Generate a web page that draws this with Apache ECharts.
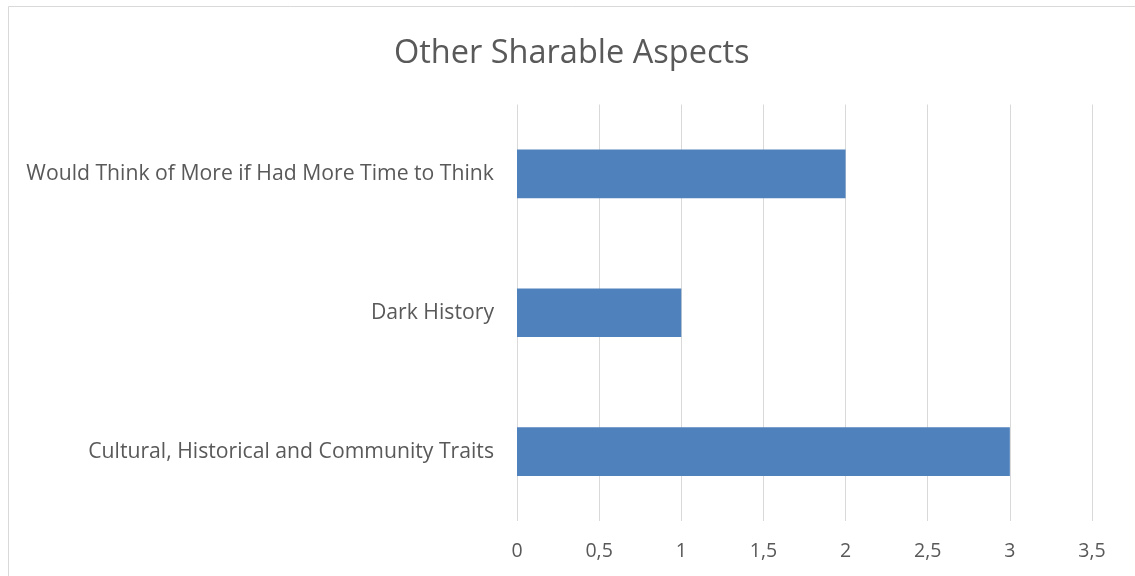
<!DOCTYPE html>
<html><head><meta charset="utf-8">
<script src="https://cdn.jsdelivr.net/npm/echarts@6/dist/echarts.min.js"></script>
<style>html,body{margin:0;padding:0;background:#fff}#c{width:1135px;height:576px}</style>
</head><body><div id="c"></div>
<script>
const titleText = 'Other Sharable Aspects';
const categories = ['Cultural, Historical and Community Traits', 'Dark History', 'Would Think of More if Had More Time to Think'];
const values = [3, 1, 2];
const tickLabels = ['0', '0,5', '1', '1,5', '2', '2,5', '3', '3,5'];

const chart = echarts.init(document.getElementById('c'), null, {renderer: 'canvas'});
const font = '"Open Sans", Lato, sans-serif';
chart.setOption({
  animation: false,
  backgroundColor: '#fff',
  graphic: [{
    type: 'rect', silent: true, z: -1,
    shape: {x: 8.5, y: 6.5, width: 1140, height: 600},
    style: {fill: '#fff', stroke: '#d9d9d9', lineWidth: 1}
  }],
  title: {
    text: titleText, left: 389, top: 32,
    textStyle: {fontFamily: font, fontSize: 32.5, fontWeight: 'normal', color: '#595959'}
  },
  grid: {left: 517, right: 43, top: 104.5, bottom: 55, containLabel: false},
  xAxis: {
    type: 'value', min: 0, max: 3.5, interval: 0.5,
    axisLine: {show: false}, axisTick: {show: false},
    splitLine: {show: true, lineStyle: {color: '#d9d9d9', width: 1}},
    axisLabel: {
      fontFamily: font, fontSize: 19.5, color: '#595959', margin: 20,
      formatter: function (v) { return tickLabels[Math.round(v / 0.5)]; }
    }
  },
  yAxis: {
    type: 'category', data: categories,
    axisLine: {show: false}, axisTick: {show: false},
    axisLabel: {fontFamily: font, fontSize: 21.2, color: '#595959', margin: 23, verticalAlign: 'middle', lineHeight: 30, padding: [6, 0, 0, 0]}
  },
  series: [{
    type: 'bar', data: values, barCategoryGap: '65%',
    itemStyle: {color: '#4f81bd'}
  }]
});
</script></body></html>
